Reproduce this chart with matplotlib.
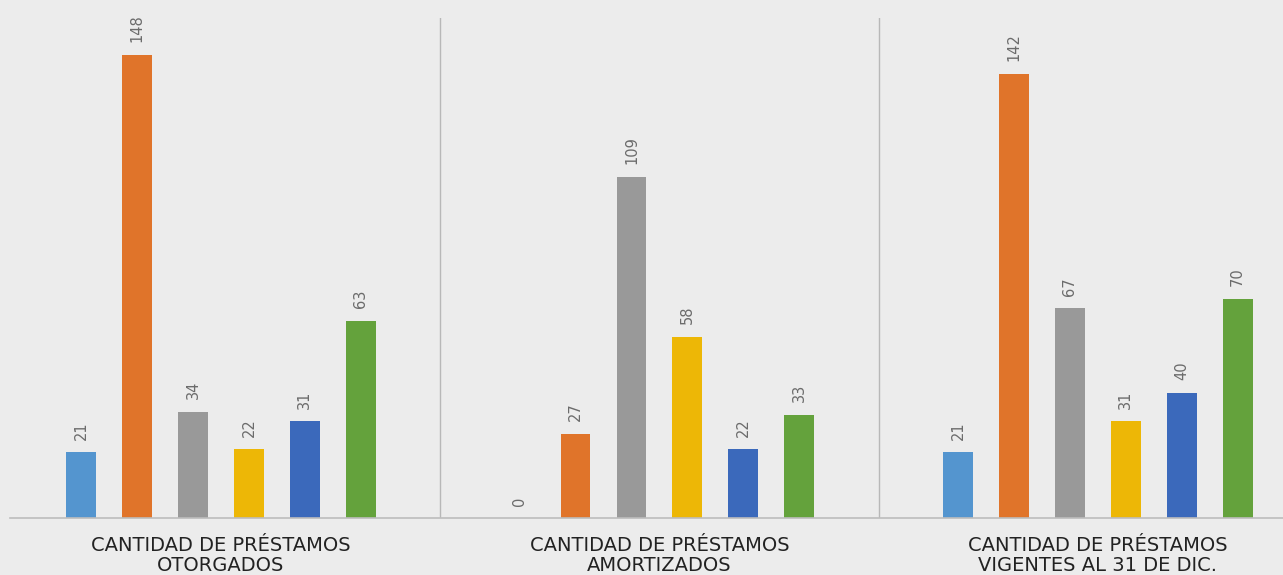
import matplotlib.pyplot as plt
import numpy as np

categories = [
    "CANTIDAD DE PRÉSTAMOS\nOTORGADOS",
    "CANTIDAD DE PRÉSTAMOS\nAMORTIZADOS",
    "CANTIDAD DE PRÉSTAMOS\nVIGENTES AL 31 DE DIC.",
]
serie_1 = [21, 0, 21]
serie_2 = [148, 27, 142]
serie_3 = [34, 109, 67]
serie_4 = [22, 58, 31]
serie_5 = [31, 22, 40]
serie_6 = [63, 33, 70]

series = [serie_1, serie_2, serie_3, serie_4, serie_5, serie_6]
colors = ["#5495CF", "#E0742A", "#999999", "#EDB706", "#3B69BB", "#64A23C"]

BG = "#ECECEC"

fig = plt.figure(figsize=(12.83, 5.75), dpi=100, facecolor=BG)
ax = fig.add_axes([10 / 1283, 57 / 575, 1273 / 1283, 500 / 575])
ax.set_facecolor(BG)

x = np.arange(len(categories))
step = 0.1275
width = 0.068
for k, (vals, color) in enumerate(zip(series, colors)):
    pos = x + (k - 2.5) * step
    bars = ax.bar(pos, vals, width=width, color=color, zorder=2)
    for rect, v in zip(bars, vals):
        ax.annotate(
            f"{v}",
            xy=(rect.get_x() + rect.get_width() / 2, rect.get_height()),
            xytext=(0, 9),
            textcoords="offset points",
            rotation=90,
            ha="center",
            va="bottom",
            fontsize=10.5,
            color="#6b6b6b",
            annotation_clip=False,
        )

for sep in x[:-1] + 0.5:
    ax.axvline(sep, color="#b8b8b8", linewidth=1, zorder=1)

ax.set_xlim(-0.481, 2.422)
ax.set_ylim(0, 159.8)
ax.set_yticks([])
ax.set_xticks(x)
ax.set_xticklabels(categories, fontsize=14, color="#222222", linespacing=1.03,
                   family=["DejaVu Sans"])
ax.tick_params(axis="x", length=0, pad=13)

for side in ["top", "right", "left"]:
    ax.spines[side].set_visible(False)
ax.spines["bottom"].set_color("#bdbdbd")
ax.spines["bottom"].set_linewidth(1.2)

fig.savefig("out.png", dpi=100, facecolor=BG)
